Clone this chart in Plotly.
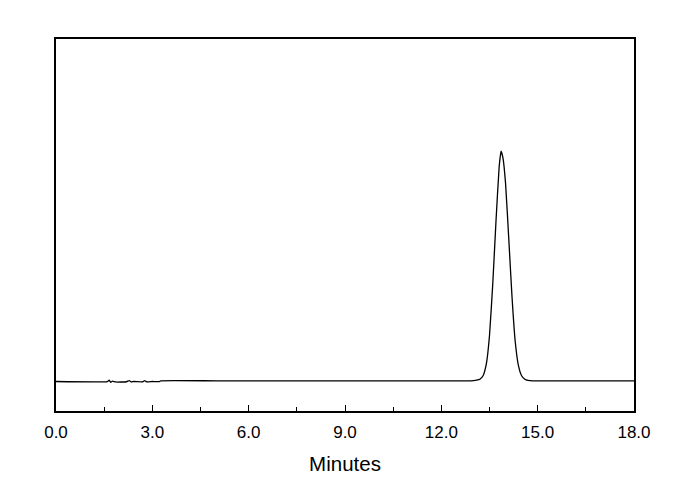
import plotly.graph_objects as go

# Chromatogram trace (time in minutes, relative signal)
time_min = [0.0, 1.60, 1.66, 1.70, 1.76, 1.85, 2.20, 2.28, 2.34, 2.42, 2.70, 2.76, 2.82,
            3.00, 3.22, 3.26, 5.00, 8.00, 11.00, 12.80, 13.00, 13.10, 13.20, 13.30,
            13.40, 13.50, 13.60, 13.70, 13.80, 13.86, 13.92, 14.00, 14.10, 14.20,
            14.30, 14.40, 14.50, 14.60, 14.70, 14.85, 15.00, 16.00, 18.00]
signal = [0.0, 0.0, 0.6, -0.4, 0.2, -0.2, -0.1, 0.4, -0.2, 0.0, -0.1, 0.4, -0.1,
          0.0, 0.0, 0.3, 0.3, 0.3, 0.3, 0.3, 0.4, 0.6, 1.0, 2.5,
          7.5, 20.0, 42.0, 69.0, 93.0, 100.0, 97.0, 86.0, 62.0, 37.0,
          17.5, 7.0, 2.5, 1.0, 0.5, 0.3, 0.3, 0.3, 0.3]

x_ticks = [0, 3, 6, 9, 12, 15, 18]
x_tick_labels = ["0.0", "3.0", "6.0", "9.0", "12.0", "15.0", "18.0"]

fig = go.Figure(go.Scatter(x=time_min, y=signal, mode="lines",
                           line=dict(color="black", width=1.3, shape="spline", smoothing=0.4),
                           hoverinfo="skip"))

fig.update_layout(
    width=690, height=490,
    margin=dict(l=48, r=64, t=31, b=87),
    paper_bgcolor="white", plot_bgcolor="white",
    showlegend=False,
    font=dict(family="Liberation Sans, Arial, sans-serif", color="black"),
    xaxis=dict(
        range=[0, 18], tickvals=x_ticks, ticktext=x_tick_labels,
        ticks="inside", ticklen=6, tickwidth=1.3, tickcolor="black",
        minor=dict(dtick=1.5, tick0=0, ticks="inside", ticklen=4, tickwidth=1.3, tickcolor="black"),
        showline=True, linecolor="black", linewidth=1.5, mirror=True,
        showgrid=False, zeroline=False,
        tickfont=dict(size=17), ticklabelstandoff=5,
        title=dict(text="Minutes", font=dict(size=20.5), standoff=15),
    ),
    yaxis=dict(
        range=[-12.8, 148.7], showticklabels=False, ticks="",
        showline=True, linecolor="black", linewidth=1.5, mirror=True,
        showgrid=False, zeroline=False,
    ),
)

fig.write_html("out.html")
